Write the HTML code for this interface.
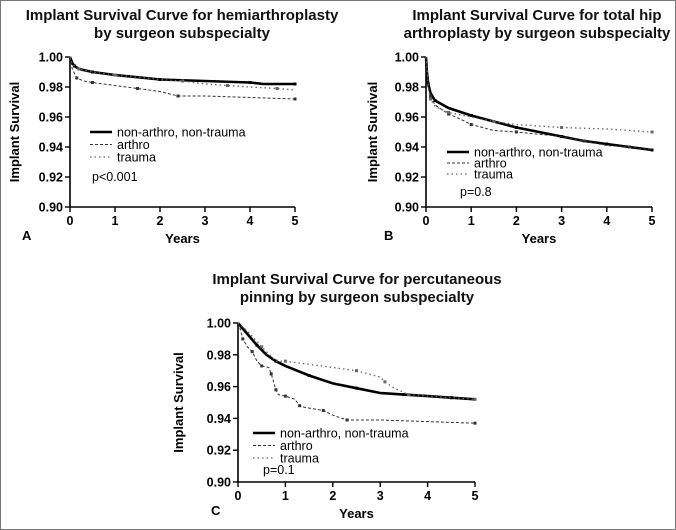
<!DOCTYPE html>
<html><head><meta charset="utf-8"><style>
html,body{margin:0;padding:0;background:#fff}
svg{display:block;font-family:"Liberation Sans",Arial,sans-serif}
</style></head><body>
<svg id="fig" width="676" height="530" viewBox="0 0 676 530">
<rect x="0.5" y="0.5" width="675" height="529" fill="#fff" stroke="#777" stroke-width="1"/>
</svg>
<script>
// Panel A: hemiarthroplasty
const timesA_non=[0,0.05,0.1,0.2,0.5,1,2,3,4,4.3,5];
const survA_non=[1,0.996,0.994,0.992,0.990,0.988,0.985,0.984,0.983,0.982,0.982];
const timesA_arth=[0,0.05,0.15,0.3,0.5,1,1.5,2,2.4,3,5];
const survA_arth=[1,0.992,0.986,0.984,0.983,0.981,0.979,0.977,0.974,0.974,0.972];
const timesA_tra=[0,0.05,0.2,0.5,1,2,2.5,3,3.5,4,4.6,5];
const survA_tra=[1,0.995,0.992,0.990,0.988,0.985,0.984,0.982,0.981,0.980,0.979,0.978];
// Panel B: total hip arthroplasty
const timesB_non=[0,0.02,0.05,0.1,0.2,0.5,1,1.5,2,2.5,3,3.5,4,4.5,5];
const survB_non=[1,0.99,0.982,0.976,0.971,0.966,0.961,0.957,0.953,0.950,0.947,0.944,0.942,0.940,0.938];
const timesB_arth=[0,0.05,0.1,0.2,0.5,0.8,1,1.5,2,3,3.5,4,4.5,5];
const survB_arth=[1,0.98,0.974,0.968,0.962,0.958,0.955,0.951,0.950,0.947,0.944,0.941,0.940,0.938];
const timesB_tra=[0,0.05,0.1,0.2,0.5,1,1.5,2,3,4,5];
const survB_tra=[1,0.98,0.972,0.967,0.963,0.960,0.957,0.955,0.953,0.952,0.950];
// Panel C: percutaneous pinning
const timesC_non=[0,0.2,0.4,0.6,0.8,1,1.5,2,2.5,3,3.5,4,4.5,5];
const survC_non=[1,0.993,0.986,0.980,0.976,0.973,0.967,0.962,0.959,0.956,0.955,0.954,0.953,0.952];
const timesC_arth=[0,0.05,0.1,0.2,0.3,0.4,0.5,0.65,0.7,0.75,0.8,0.85,1,1.2,1.3,1.4,1.8,2,2.3,3,5];
const survC_arth=[1,0.996,0.990,0.985,0.982,0.976,0.973,0.972,0.968,0.963,0.958,0.955,0.954,0.952,0.948,0.947,0.945,0.942,0.939,0.939,0.937];
const timesC_tra=[0,0.2,0.5,0.8,1,2,2.5,3,3.1,3.3,3.6,4,5];
const survC_tra=[1,0.995,0.985,0.976,0.976,0.972,0.970,0.966,0.963,0.959,0.955,0.954,0.952];

const xTicks=[0,1,2,3,4,5];
const yTicks=[0.90,0.92,0.94,0.96,0.98,1.00];
const NS="http://www.w3.org/2000/svg";
const svg=document.getElementById('fig');
function mk(tag,attrs,parent){const e=document.createElementNS(NS,tag);for(const k in attrs)e.setAttribute(k,attrs[k]);(parent||svg).appendChild(e);return e;}
function txt(s,attrs,parent){const e=mk('text',attrs,parent);e.textContent=s;return e;}

function panel(cfg){
  const g=mk('g',{});
  
  
  const sx=t=>cfg.x0+(cfg.x1-cfg.x0)*t/5;
  const sy=v=>cfg.y1+(cfg.y0-cfg.y1)*(v-0.90)/0.10;
  cfg.title.forEach((l,i)=>{const t=txt(l,{x:cfg.tx,y:cfg.ty+i*18,'text-anchor':'middle','font-size':15,'font-weight':'bold',fill:'#111'},g);
    });
  const ax=mk('path',{d:`M${cfg.x0},${sy(1)}V${sy(0.9)}H${cfg.x1}`,stroke:'#000','stroke-width':1.6,fill:'none'},g);
  
  yTicks.forEach(v=>{mk('line',{x1:cfg.x0-5,x2:cfg.x0,y1:sy(v),y2:sy(v),stroke:'#000','stroke-width':1.4},g);
    const t=txt(v.toFixed(2),{x:cfg.x0-7,y:sy(v)+4.5,'text-anchor':'end','font-size':12.5,'font-weight':'bold'},g);
    });
  xTicks.forEach(v=>{mk('line',{x1:sx(v),x2:sx(v),y1:sy(0.9),y2:sy(0.9)+5,stroke:'#000','stroke-width':1.4},g);
    const t=txt(String(v),{x:sx(v),y:sy(0.9)+18,'text-anchor':'middle','font-size':12.5,'font-weight':'bold'},g);
    });
  const yl=txt('Implant Survival',{x:0,y:0,transform:`translate(${cfg.ylx},${(sy(1)+sy(0.9))/2}) rotate(-90)`,'text-anchor':'middle','font-size':13,'font-weight':'bold'},g);
  
  const xl=txt('Years',{x:(cfg.x0+cfg.x1)/2,y:sy(0.9)+36,'text-anchor':'middle','font-size':13,'font-weight':'bold'},g);
  
  const lt=txt(cfg.letter,{x:cfg.lx,y:sy(0.9)+33,'font-size':13,'font-weight':'bold'},g);
  
  const styles=[{w:2.6,d:'',c:'#000'},{w:1,d:'3,2',c:'#333'},{w:1.3,d:'1.5,3',c:'#666'}];
  cfg.series.forEach((s,i)=>{
    const st=styles[i];
    const pts=s.t.map((t,j)=>`${sx(t).toFixed(1)},${sy(s.v[j]).toFixed(1)}`).join(' ');
    const pl=mk('polyline',{points:pts,fill:'none',stroke:st.c,'stroke-width':st.w,'stroke-dasharray':st.d},g);
    
    s.t.forEach((t,j)=>{if(j>0&&j%2==0){const m=mk('rect',{x:sx(t)-1.5,y:sy(s.v[j])-1.5,width:3,height:3,fill:st.c},g);
      }});
    const ly=cfg.leg[1]+i*cfg.leg[2];
    const ll=mk('line',{x1:cfg.leg[0],x2:cfg.leg[0]+22,y1:ly,y2:ly,stroke:st.c,'stroke-width':st.w,'stroke-dasharray':st.d},g);
    
    const lt2=txt(['non-arthro, non-trauma','arthro','trauma'][i],{x:cfg.leg[0]+27,y:ly+4.5,'font-size':12.5},g);
    
  });
  const p=txt(cfg.p[0],{x:cfg.p[1],y:cfg.p[2],'font-size':12.5},g);
  
}
panel({name:'panel-a',x0:70,x1:295,y0:57,y1:207,tx:182,ty:20,title:['Implant Survival Curve for hemiarthroplasty','by surgeon subspecialty'],ylx:19,lx:22,letter:'A',
  series:[{n:'non-arthro',t:timesA_non,v:survA_non},{n:'arthro',t:timesA_arth,v:survA_arth},{n:'trauma',t:timesA_tra,v:survA_tra}],
  leg:[90,132,12.5],p:['p<0.001',92,181]});
panel({name:'panel-b',x0:426,x1:652,y0:57,y1:207,tx:537,ty:20,title:['Implant Survival Curve for total hip','arthroplasty by surgeon subspecialty'],ylx:377,lx:384,letter:'B',
  series:[{n:'non-arthro',t:timesB_non,v:survB_non},{n:'arthro',t:timesB_arth,v:survB_arth},{n:'trauma',t:timesB_tra,v:survB_tra}],
  leg:[447,152,11],p:['p=0.8',460,196]});
panel({name:'panel-c',x0:238,x1:475,y0:323,y1:482,tx:357,ty:284,title:['Implant Survival Curve for percutaneous','pinning by surgeon subspecialty'],ylx:183,lx:211,letter:'C',
  series:[{n:'non-arthro',t:timesC_non,v:survC_non},{n:'arthro',t:timesC_arth,v:survC_arth},{n:'trauma',t:timesC_tra,v:survC_tra}],
  leg:[253,433,12.5],p:['p=0.1',263,474]});
</script>
</body></html>
